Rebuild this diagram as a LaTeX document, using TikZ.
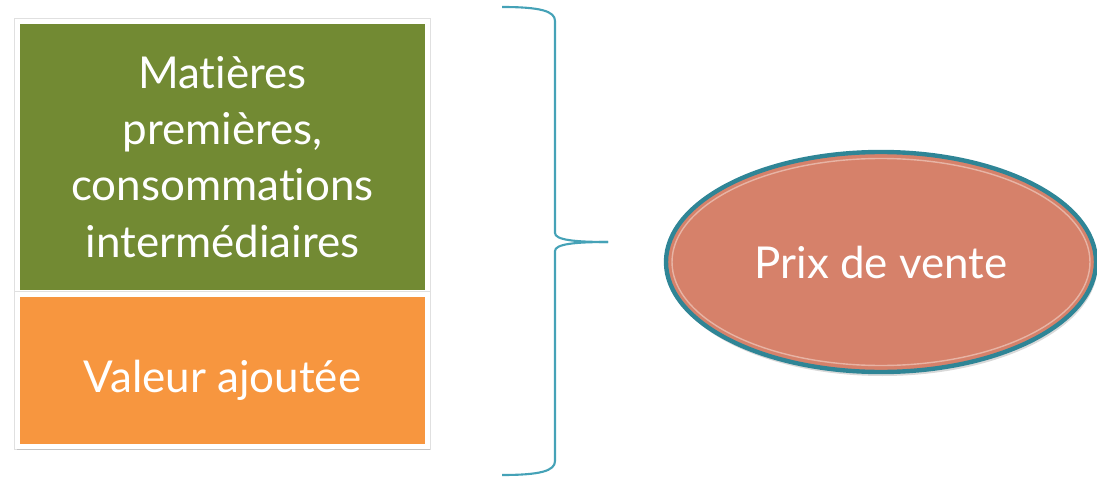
\documentclass[tikz,border=0pt]{standalone}
\usepackage{fontspec}
\setmainfont{Lato}[Ligatures={NoCommon}]
\usetikzlibrary{shapes.geometric}
\usetikzlibrary{calc}
\usetikzlibrary{shadows}
\usetikzlibrary{positioning}
\definecolor{Olive}{HTML}{728A33}
\definecolor{Tangerine}{HTML}{F7963F}
\definecolor{Salmon}{HTML}{D6816A}
\definecolor{Teal}{HTML}{2F8596}
\definecolor{BraceBlue}{HTML}{45A2B7}

\begin{document}
\begin{tikzpicture}
		\tikzstyle{Block} = [rectangle, draw=white, line width=0.1cm, text=white,
			align=center, minimum width=8.2cm, font=\fontsize{25}{32}\selectfont,
			preaction={draw=black!12, line width=0.15cm},
			drop shadow={shadow xshift=0.02cm, shadow yshift=-0.07cm, shadow scale=1.005, opacity=0.3}]
		\tikzstyle{Price} = [ellipse, draw=Teal, line width=2.5pt, fill=Salmon, text=white,
			minimum width=8.6cm, minimum height=4.4cm, font=\fontsize{25}{32}\selectfont,
			drop shadow={shadow xshift=0.03cm, shadow yshift=-0.08cm, opacity=0.3}]
		\tikzstyle{Brace} = [BraceBlue, line width=1.2pt]

		%Fix the page
		\useasboundingbox (0,0) rectangle (21.94,9.52);

		%Draw the two blocks
		\node[Block, fill=Olive, minimum height=5.42cm](MP) at (4.45,6.38){Matières\\premières,\\consommations\\intermédiaires};
		\node[Block, fill=Tangerine, minimum height=3.04cm, text height=1.05cm](VA) at (4.45,2.11){Valeur ajoutée};

		%Draw the brace
		\coordinate (BTop) at (10.04,9.38);
		\coordinate (BTip) at (12.16,4.68);
		\coordinate (BBot) at (10.04,0.02);
		\draw[Brace] (BTop) .. controls (10.8,9.38) and (11.1,9.3) .. (11.1,9.1)
			-- (11.1,4.86) .. controls (11.1,4.72) and (11.5,4.68) .. (BTip);
		\draw[Brace] (BTip) .. controls (11.5,4.68) and (11.1,4.64) .. (11.1,4.5)
			-- (11.1,0.3) .. controls (11.1,0.1) and (10.8,0.02) .. (BBot);

		%Draw the price
		\node[Price](PV) at (17.62,4.28){Prix de vente};
		\draw[Salmon!60!white, line width=0.8pt] (PV.center) ellipse (4.18 and 2.07);
	\end{tikzpicture}
\end{document}
